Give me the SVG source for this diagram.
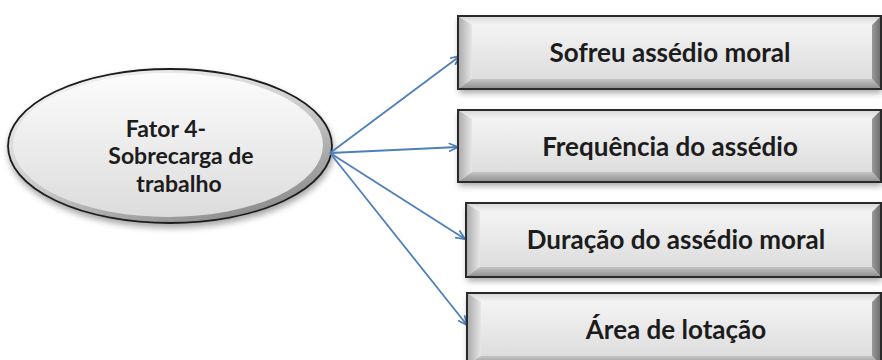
<svg xmlns="http://www.w3.org/2000/svg" width="882" height="360" viewBox="0 0 882 360">
  <style>
    .label { font-family: "Lato", "Liberation Sans", sans-serif; font-weight: bold; fill: #1c1c1c; text-anchor: middle; }
    .box-label { font-size: 26px; }
    .oval-label { font-size: 23px; }
    .edge { fill: none; stroke: #4f7fba; stroke-width: 1.8; marker-end: url(#arrow); }
    .frame { fill: none; stroke: #2a2a2a; stroke-width: 2; }
    .bv-top { fill: url(#bvTop); }
    .bv-left { fill: url(#bvLeft); }
    .bv-right { fill: url(#bvRight); }
    .bv-bottom { fill: url(#bvBottom); }
    .face { fill: url(#face); }
  </style>
  <defs>
    <marker id="arrow" viewBox="0 0 12 12" refX="11" refY="6" markerWidth="11" markerHeight="11" markerUnits="userSpaceOnUse" orient="auto">
      <path d="M1,1.5 L11,6 L1,10.5" fill="none" stroke="#4f7fba" stroke-width="1.9"/>
    </marker>
    <filter id="shadow" x="-10%" y="-20%" width="120%" height="150%">
      <feDropShadow dx="1" dy="4" stdDeviation="3" flood-color="#000" flood-opacity="0.35"/>
    </filter>
    <linearGradient id="face" x1="0" y1="0" x2="0" y2="1">
      <stop offset="0" stop-color="#f7f7f7"/>
      <stop offset="1" stop-color="#d9d9d9"/>
    </linearGradient>
    <linearGradient id="bvTop" x1="0" y1="0" x2="0" y2="1">
      <stop offset="0" stop-color="#d6d6d6"/>
      <stop offset="1" stop-color="#f4f4f4"/>
    </linearGradient>
    <linearGradient id="bvLeft" x1="0" y1="0" x2="1" y2="0">
      <stop offset="0" stop-color="#a9a9a9"/>
      <stop offset="1" stop-color="#e6e6e6"/>
    </linearGradient>
    <linearGradient id="bvRight" x1="0" y1="0" x2="1" y2="0">
      <stop offset="0" stop-color="#9a9a9a"/>
      <stop offset="1" stop-color="#6c6c6c"/>
    </linearGradient>
    <linearGradient id="bvBottom" x1="0" y1="0" x2="0" y2="1">
      <stop offset="0" stop-color="#c4c4c4"/>
      <stop offset="1" stop-color="#8e8e8e"/>
    </linearGradient>
    <linearGradient id="rim" x1="0.2" y1="0" x2="0.8" y2="1">
      <stop offset="0" stop-color="#f4f4f4"/>
      <stop offset="0.55" stop-color="#c6c6c6"/>
      <stop offset="1" stop-color="#858585"/>
    </linearGradient>
    <linearGradient id="ovalFace" x1="0" y1="0" x2="0" y2="1">
      <stop offset="0" stop-color="#fcfcfc"/>
      <stop offset="1" stop-color="#dcdcdc"/>
    </linearGradient>
  </defs>

  <!-- central factor -->
  <g id="fator4">
    <ellipse cx="170" cy="146" rx="162" ry="77" fill="url(#rim)" stroke="#1e1e1e" stroke-width="1.8" filter="url(#shadow)"/>
    <ellipse cx="168" cy="145" rx="155" ry="72" fill="url(#ovalFace)"/>
    <text class="label oval-label" x="166" y="137">Fator 4-</text>
    <text class="label oval-label" x="181" y="164">Sobrecarga de</text>
    <text class="label oval-label" x="179" y="192">trabalho</text>
  </g>

  <!-- connectors -->
  <g id="connectors">
    <line class="edge" x1="330" y1="153" x2="460" y2="56"/>
    <line class="edge" x1="330" y1="153" x2="458" y2="147"/>
    <line class="edge" x1="330" y1="153" x2="465" y2="239"/>
    <line class="edge" x1="330" y1="153" x2="467" y2="325"/>
  </g>

  <!-- item: x=458 y=16 w=423 h=73 -->
  <g id="sofreu">
    <g filter="url(#shadow)">
      <rect x="458" y="16" width="423" height="73" class="face"/>
    </g>
    <polygon class="bv-top" points="458,16 881,16 872,25 472,25"/>
    <polygon class="bv-left" points="458,16 472,25 472,79 458,89"/>
    <polygon class="bv-right" points="881,16 881,89 872,79 872,25"/>
    <polygon class="bv-bottom" points="458,89 472,79 872,79 881,89"/>
    <rect x="458" y="16" width="423" height="73" class="frame"/>
    <text class="label box-label" x="670" y="62">Sofreu assédio moral</text>
  </g>

  <g id="frequencia">
    <g filter="url(#shadow)">
      <rect x="458" y="110" width="423" height="72" class="face"/>
    </g>
    <polygon class="bv-top" points="458,110 881,110 872,119 472,119"/>
    <polygon class="bv-left" points="458,110 472,119 472,172 458,182"/>
    <polygon class="bv-right" points="881,110 881,182 872,172 872,119"/>
    <polygon class="bv-bottom" points="458,182 472,172 872,172 881,182"/>
    <rect x="458" y="110" width="423" height="72" class="frame"/>
    <text class="label box-label" x="670" y="156">Frequência do assédio</text>
  </g>

  <g id="duracao">
    <g filter="url(#shadow)">
      <rect x="466" y="203" width="415" height="74" class="face"/>
    </g>
    <polygon class="bv-top" points="466,203 881,203 872,212 480,212"/>
    <polygon class="bv-left" points="466,203 480,212 480,267 466,277"/>
    <polygon class="bv-right" points="881,203 881,277 872,267 872,212"/>
    <polygon class="bv-bottom" points="466,277 480,267 872,267 881,277"/>
    <rect x="466" y="203" width="415" height="74" class="frame"/>
    <text class="label box-label" x="676" y="249">Duração do assédio moral</text>
  </g>

  <g id="area">
    <g filter="url(#shadow)">
      <rect x="467" y="293" width="414" height="73" class="face"/>
    </g>
    <polygon class="bv-top" points="467,293 881,293 872,302 481,302"/>
    <polygon class="bv-left" points="467,293 481,302 481,356 467,366"/>
    <polygon class="bv-right" points="881,293 881,366 872,356 872,302"/>
    <polygon class="bv-bottom" points="467,366 481,356 872,356 881,366"/>
    <rect x="467" y="293" width="414" height="73" class="frame"/>
    <text class="label box-label" x="676" y="339">Área de lotação</text>
  </g>
</svg>
